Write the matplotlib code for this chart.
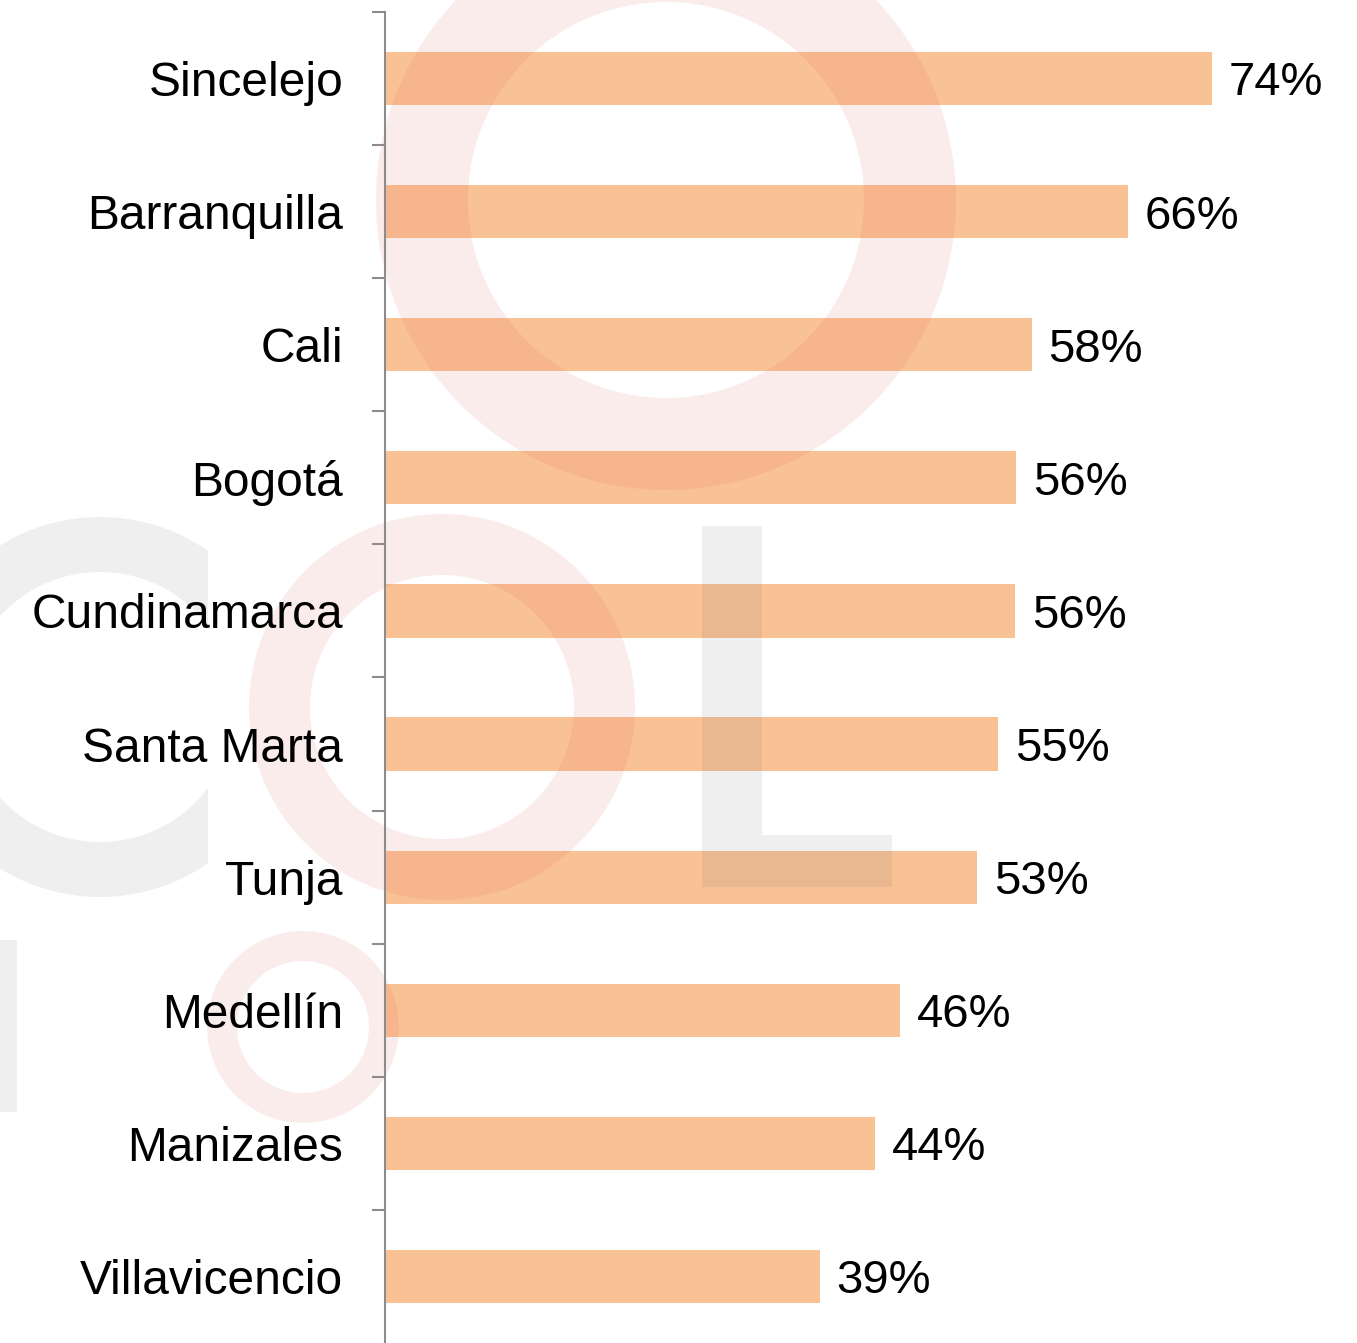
import matplotlib
matplotlib.use("Agg")
import matplotlib.pyplot as plt
from matplotlib.patches import Wedge, Rectangle
from matplotlib.transforms import Affine2D
import numpy as np

# ---- data ----
cities = ["Sincelejo", "Barranquilla", "Cali", "Bogotá", "Cundinamarca",
          "Santa Marta", "Tunja", "Medellín", "Manizales", "Villavicencio"]
values = [74.0, 66.5, 57.9, 56.5, 56.4, 54.9, 53.0, 46.1, 43.9, 38.9]
value_labels = ["74%", "66%", "58%", "56%", "56%", "55%", "53%", "46%", "44%", "39%"]

W, H = 1357, 1343
plt.rcParams['font.family'] = ['Liberation Sans', 'DejaVu Sans']

fig = plt.figure(figsize=(W / 100, H / 100), dpi=100)
fig.patch.set_facecolor("white")
ax = fig.add_axes([385 / W, 0, 1 - 385 / W, (H - 12) / H])
ax.set_facecolor("none")

y = np.arange(len(cities))
ax.barh(y, values, height=0.4, color="#F9C295", zorder=1)

ax.set_ylim(len(cities) - 0.5, -0.5)
ax.set_xlim(0, 87)

for s in ["top", "right", "bottom"]:
    ax.spines[s].set_visible(False)
ax.spines["left"].set_color("#8c8c8c")
ax.spines["left"].set_linewidth(1.5)
ax.xaxis.set_visible(False)

ax.set_yticks(y)
ax.set_yticklabels(cities, fontsize=34.5)
ax.tick_params(axis="y", which="major", length=0, pad=30)
ax.set_yticks(np.arange(-0.5, len(cities) - 1, 1.0), minor=True)
ax.tick_params(axis="y", which="minor", length=9.5, width=1.5, color="#8c8c8c")

for yi, v, lab in zip(y, values, value_labels):
    ax.annotate(lab, xy=(v, yi), xytext=(12, -3.5), textcoords="offset points",
                va="center", ha="left", fontsize=34, color="black", zorder=3)

# ---- watermark (pixel coords, y from top) ----
pix = Affine2D().scale(1 / W, -1 / H).translate(0, 1) + fig.transFigure
pink = (225 / 255, 70 / 255, 70 / 255)
grey = (100 / 255, 100 / 255, 100 / 255)
a = 0.1

def ring(cx, cy, ro, ri, color):
    p = Wedge((cx, cy), ro, 0, 360, width=ro - ri, transform=pix,
              facecolor=color, edgecolor="none", alpha=a, zorder=1.2, clip_on=False)
    ax.add_artist(p)
    return p

ring(666, 200, 290, 198, pink)
ring(442, 707, 193, 132, pink)
ring(303, 1027, 96, 66, pink)

c = Wedge((100, 707), 190, 0, 360, width=55, transform=pix,
          facecolor=grey, edgecolor="none", alpha=a, zorder=1.2)
ax.add_artist(c)
clip = Rectangle((-50, 400), 258, 600, transform=pix)
c.set_clip_path(clip)

for (x0, y0, w, h) in [(702, 526, 60, 361), (762, 835, 130, 52), (0, 940, 17, 172)]:
    ax.add_artist(Rectangle((x0, y0), w, h, transform=pix, facecolor=grey,
                            edgecolor="none", alpha=a, zorder=1.2, clip_on=False))

fig.savefig("out.png", dpi=100, facecolor="white")
